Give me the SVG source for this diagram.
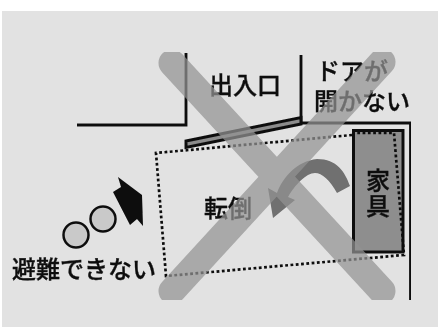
<svg xmlns="http://www.w3.org/2000/svg" width="438" height="327" viewBox="0 0 438 327">
<style>
.t{font-family:"Noto Sans CJK JP","Noto Sans CJK SC",sans-serif;font-size:24px;font-weight:500;fill:#111;stroke:#111;stroke-width:.35}
.w{fill:none;stroke:#111;stroke-width:2.8}
.d{fill:none;stroke:#111;stroke-width:2.700;stroke-dasharray:2.800 2.500}
.x{fill:none;stroke:#939393;stroke-opacity:.72;stroke-width:27;stroke-linecap:round}
</style>
<defs><filter id="b" x="0" y="0" width="100%" height="100%"><feGaussianBlur stdDeviation="0.5"/></filter></defs>
<rect width="438" height="327" fill="#fff"/>
<rect x="2" y="11" width="436" height="316" fill="#e2e2e2"/>
<g filter="url(#b)">
<g id="walls">
<path class="w" d="M77 125H186V53"/>
<path class="w" d="M301 55V123H410.500V300"/>
</g>
<g id="door"><path d="M186 141L301 117.500V124L186 147.500Z" fill="#8c8c8c" stroke="#111" stroke-width="3"/></g>
<g id="furniture">
<rect x="353.500" y="130.500" width="49.500" height="121.500" fill="#8e8e8e" stroke="#111" stroke-width="3"/>
<text class="t" x="378" y="189" text-anchor="middle">家</text>
<text class="t" x="378" y="215" text-anchor="middle">具</text>
</g>
<g id="connectors">
<path class="d" d="M352 135L156 153L166 276L404 255L394 133H356"/>
<path d="M273 218L268 188L277 193C283 177 297 161 317 159C337 159 345 172 350 186L337 193C330 180 322 173 315 173C306 173 295 185 288 197L295 200Z" fill="#6f6f6f"/>
<path d="M118 177L142 195L143 226L137 219L130 225L113 192L121 187Z" fill="#0c0c0c"/>
</g>
<g id="people">
<circle cx="76" cy="235" r="12.500" fill="#c9c9c9" stroke="#111" stroke-width="2.500"/>
<circle cx="103" cy="219" r="12.500" fill="#c9c9c9" stroke="#111" stroke-width="2.500"/>
</g>
<g id="labels">
<text class="t" x="209" y="94">出入口</text>
<text class="t" x="316" y="80">ドアが</text>
<text class="t" x="314" y="110">開かない</text>
<text class="t" x="204" y="217">転倒</text>
<text class="t" x="12" y="278">避難できない</text>
</g>
<path id="cross" class="x" d="M172 63L382 291M382 62L172 291"/>
</g>
</svg>
